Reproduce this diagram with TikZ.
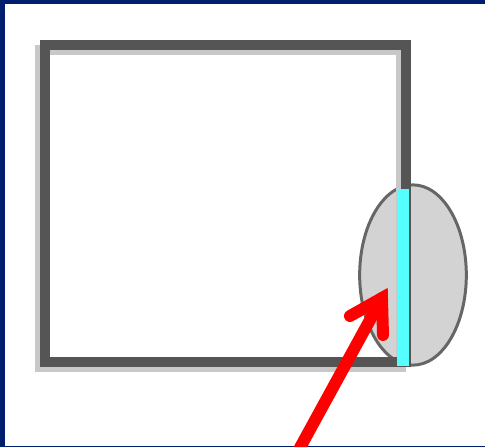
\documentclass[tikz,border=0pt]{standalone}
\usepackage{xcolor}
\usepackage{tikz}
\usetikzlibrary{positioning,calc,shapes.geometric}
\definecolor{frameblue}{HTML}{001E6E}
\definecolor{boxgray}{HTML}{555555}
\definecolor{shadegray}{HTML}{C8C8C8}
\definecolor{lensgray}{HTML}{D3D3D3}
\definecolor{rimgray}{HTML}{666666}
\definecolor{slitcyan}{HTML}{55FFFF}

\begin{document}
\begin{tikzpicture}[x=0.02cm, y=-0.02cm,
  boxline/.style={draw=boxgray, line width=5.7pt},
  boxshade/.style={draw=shadegray, line width=5.7pt},
  pointer/.style={draw=red, line width=6.8pt, line cap=round, line join=miter}]
\useasboundingbox (0,0) rectangle (485,447);
\fill[white] (0,0) rectangle (485,447);

% --- screen frame ---
\fill[frameblue] (0,0) rectangle (5,447);
\fill[frameblue] (0,0) rectangle (485,4);
\fill[frameblue] (0,446) rectangle (485,447);

% --- lens ---
\node[ellipse, draw=rimgray, fill=lensgray, line width=1.7pt,
  minimum width=60.7pt, minimum height=102.6pt, inner sep=0pt] (lens) at (413,275) {};

% --- box ---
\draw[boxshade] (40,50) rectangle (401,367);
\draw[boxline] (45,45) rectangle (406,362);

% --- slit ---
\fill[slitcyan] (397,189) rectangle (409,366);

% --- pointer ---
\coordinate (tail) at (296,455);
\coordinate (tip) at (382,298);
\coordinate (barbL) at (350,316);
\coordinate (barbR) at (383,335);
\begin{scope}
  \clip (0,0) rectangle (485,446);
  \draw[pointer] (tail) -- (tip);
\end{scope}
\draw[pointer] (barbL) -- (tip) -- (barbR);
\end{tikzpicture}
\end{document}
